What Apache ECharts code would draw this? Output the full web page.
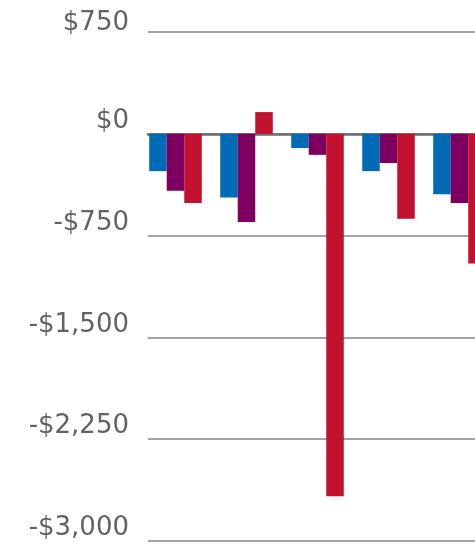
<!DOCTYPE html>
<html>
<head>
<meta charset="utf-8">
<script src="https://cdn.jsdelivr.net/npm/echarts@6/dist/echarts.min.js"></script>
<style>
html,body{margin:0;padding:0;background:#fff;overflow:hidden;width:475px;height:548px;}
#chart{width:500px;height:548px;}
</style>
</head>
<body>
<div id="chart"></div>
<script>
var categories = ['Group 1', 'Group 2', 'Group 3', 'Group 4', 'Group 5'];
var seriesNames = ['Series A', 'Series B', 'Series C'];
var blueValues = [-275, -470, -105, -275, -445];
var purpleValues = [-420, -650, -155, -215, -510];
var redValues = [-510, 160, -2670, -625, -955];
var tickValues = [750, 0, -750, -1500, -2250, -3000];
var tickLabels = ['$750', '$0', '-$750', '-$1,500', '-$2,250', '-$3,000'];

var chart = echarts.init(document.getElementById('chart'), null, {renderer: 'canvas'});
var yMin = -3000, yMax = 750, yInt = 750;
var option = {
  animation: false,
  backgroundColor: '#ffffff',
  grid: [
    {left: 148, right: 0, top: 32, bottom: 7},
    {left: 140, width: 355, top: 32, bottom: 7}
  ],
  xAxis: [
    {gridIndex: 0, type: 'category', data: [''], axisTick: {show: false}, axisLabel: {show: false},
     axisLine: {show: true, onZero: true, lineStyle: {color: '#6b6b6b', width: 2.5}}},
    {gridIndex: 1, type: 'category', data: categories, axisTick: {show: false}, axisLabel: {show: false},
     axisLine: {show: false}}
  ],
  yAxis: [
    {gridIndex: 0, type: 'value', min: yMin, max: yMax, interval: yInt,
     axisLine: {show: false}, axisTick: {show: false},
     splitLine: {show: true, lineStyle: {color: '#858585', width: 1.5}},
     axisLabel: {
       show: true, margin: 19, color: '#626365', fontFamily: 'DejaVu Sans', fontSize: 26,
       verticalAlign: 'bottom', lineHeight: 25,
       rich: {
         top: {color: '#626365', fontFamily: 'DejaVu Sans', fontSize: 26, lineHeight: 18}
       },
       formatter: function (v) {
         var i = tickValues.indexOf(v);
         if (i < 0) return '';
         return v === yMax ? '{top|' + tickLabels[i] + '}' : tickLabels[i];
       }
     }},
    {gridIndex: 1, type: 'value', min: yMin, max: yMax, interval: yInt,
     axisLine: {show: false}, axisTick: {show: false}, splitLine: {show: false}, axisLabel: {show: false}}
  ],
  series: [
    {name: seriesNames[0], type: 'bar', xAxisIndex: 1, yAxisIndex: 1, data: blueValues,
     itemStyle: {color: '#006ab4'}, barGap: '0%', barCategoryGap: '26%'},
    {name: seriesNames[1], type: 'bar', xAxisIndex: 1, yAxisIndex: 1, data: purpleValues,
     itemStyle: {color: '#7d0061'}, barGap: '0%', barCategoryGap: '26%'},
    {name: seriesNames[2], type: 'bar', xAxisIndex: 1, yAxisIndex: 1, data: redValues,
     itemStyle: {color: '#c1112e'}, barGap: '0%', barCategoryGap: '26%'}
  ]
};
chart.setOption(option);
</script>
</body>
</html>
